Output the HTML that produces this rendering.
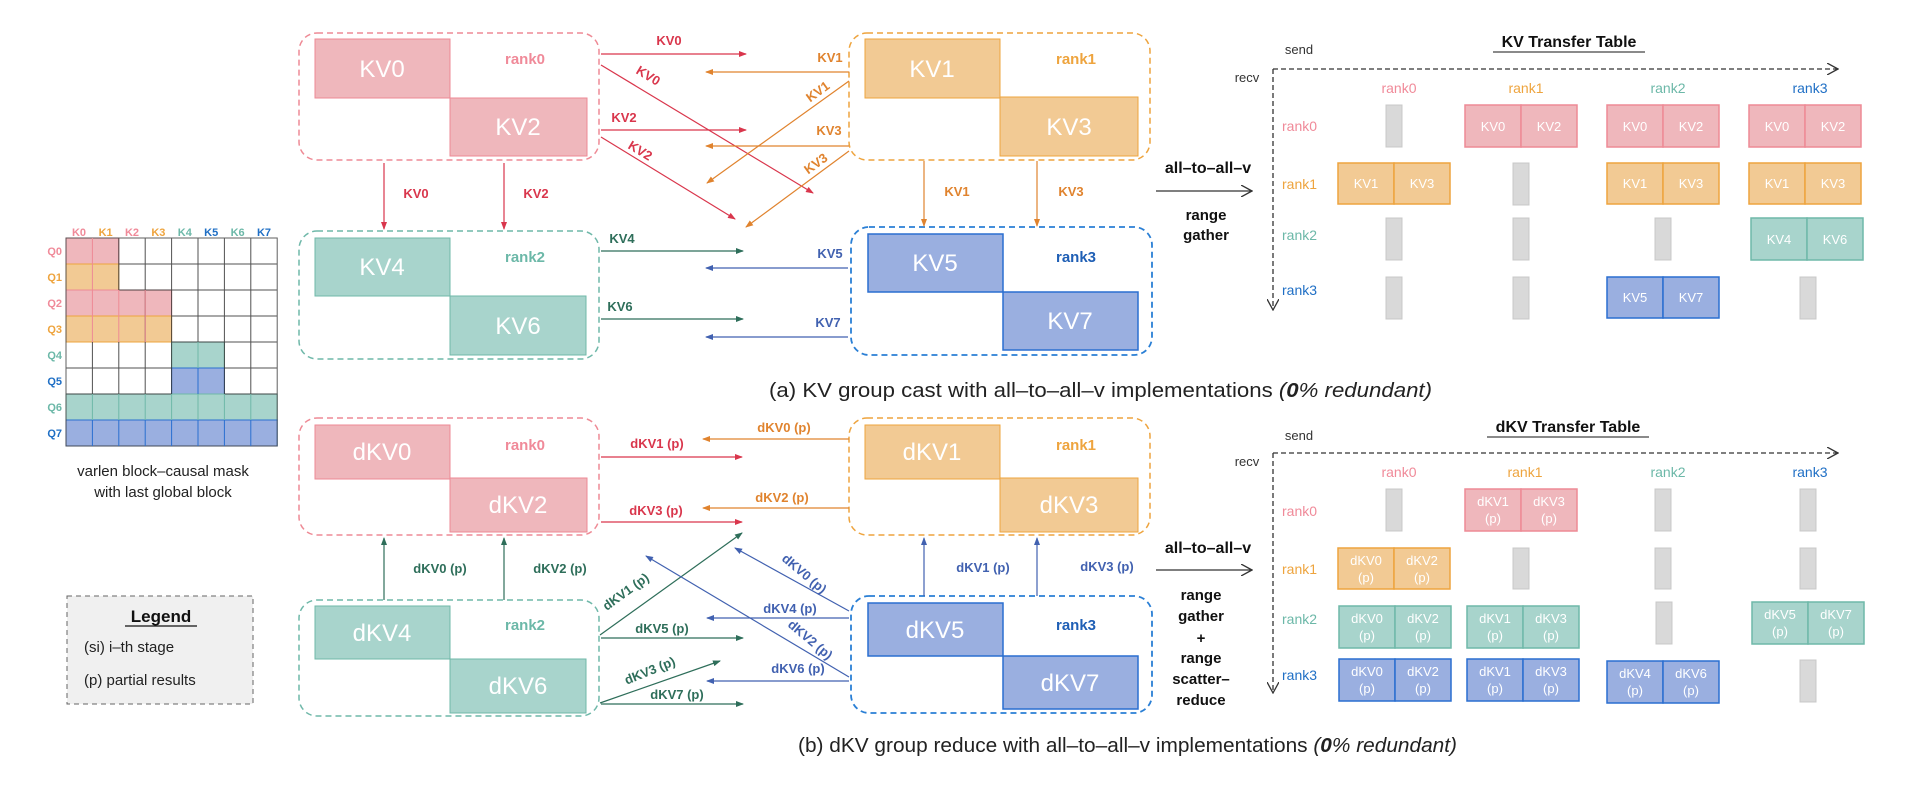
<!DOCTYPE html>
<html><head><meta charset="utf-8"><style>
html,body{margin:0;padding:0;background:#fff;}
svg{display:block;font-family:"Liberation Sans",Arial,sans-serif;}
.big{font-size:24px;fill:#fff;text-anchor:middle;}
.cell{font-size:13px;fill:#fff;text-anchor:middle;}
.lbl{font-size:14px;font-weight:bold;}
.rk{font-size:15px;font-weight:bold;text-anchor:middle;}
.al{font-size:13px;font-weight:bold;}
</style></head><body>
<svg width="1920" height="787" viewBox="0 0 1920 787" xmlns="http://www.w3.org/2000/svg">
<defs>
<marker id="mr" markerWidth="8" markerHeight="8" refX="7" refY="4" orient="auto" markerUnits="userSpaceOnUse"><path d="M0,1 L8,4 L0,7z" fill="#d9364c"/></marker>
<marker id="mo" markerWidth="8" markerHeight="8" refX="7" refY="4" orient="auto" markerUnits="userSpaceOnUse"><path d="M0,1 L8,4 L0,7z" fill="#e0832e"/></marker>
<marker id="mt" markerWidth="8" markerHeight="8" refX="7" refY="4" orient="auto" markerUnits="userSpaceOnUse"><path d="M0,1 L8,4 L0,7z" fill="#2e6e5a"/></marker>
<marker id="mb" markerWidth="8" markerHeight="8" refX="7" refY="4" orient="auto" markerUnits="userSpaceOnUse"><path d="M0,1 L8,4 L0,7z" fill="#4161b0"/></marker>
<marker id="mk" markerWidth="12" markerHeight="12" refX="11" refY="6" orient="auto" markerUnits="userSpaceOnUse"><path d="M0,0 L11,6 L0,12" fill="none" stroke="#333" stroke-width="1.3"/></marker>
</defs>

<!-- mask grid -->
<g>
<rect x="66" y="238" width="52.8" height="26" fill="#efb7bc" stroke="#ee8a95"/>
<rect x="66" y="264" width="52.8" height="26" fill="#f2ca94" stroke="#eea43e"/>
<rect x="66" y="290" width="105.6" height="26" fill="#efb7bc" stroke="#ee8a95"/>
<rect x="66" y="316" width="105.6" height="26" fill="#f2ca94" stroke="#eea43e"/>
<rect x="171.6" y="342" width="52.8" height="26" fill="#a8d4cc" stroke="#6fb8a9"/>
<rect x="171.6" y="368" width="52.8" height="26" fill="#9aafe0" stroke="#2a6fd0"/>
<rect x="66" y="394" width="211.2" height="26" fill="#a8d4cc" stroke="#6fb8a9"/>
<rect x="66" y="420" width="211.2" height="26" fill="#9aafe0" stroke="#2a6fd0"/>
<g stroke="#333" stroke-width="1" fill="none" opacity="0.85">
<path d="M118.8,238V290 M145.2,238V342 M171.6,238V394 M198,238V394 M224.4,238V394 M250.8,238V394 M92.4,342V394 M118.8,342V394 M145.2,342V394"/>
<path d="M118.8,264H277.2 M118.8,290H277.2 M171.6,316H277.2 M171.6,342H277.2 M66,368H171.6 M224.4,368H277.2 M66,394H171.6 M224.4,394H277.2"/>
<rect x="66" y="238" width="211.2" height="208" stroke="#444"/>
</g>
<g stroke-width="1" fill="none">
<path d="M92.4,238V290 M118.8,290V342 M145.2,290V342 M92.4,290V342" stroke="#ee8a95"/>
<path d="M198,342V368" stroke="#6fb8a9"/><path d="M198,368V394" stroke="#2a6fd0"/>
<path d="M92.4,394V420 M118.8,394V420 M145.2,394V420 M171.6,394V420 M198,394V420 M224.4,394V420 M250.8,394V420" stroke="#6fb8a9"/>
<path d="M92.4,420V446 M118.8,420V446 M145.2,420V446 M171.6,420V446 M198,420V446 M224.4,420V446 M250.8,420V446" stroke="#2a6fd0"/>
</g>
<g font-size="11" font-weight="bold" text-anchor="middle">
<text x="79" y="236" fill="#f08a99">K0</text><text x="105.6" y="236" fill="#eea43e">K1</text>
<text x="132" y="236" fill="#f08a99">K2</text><text x="158.4" y="236" fill="#eea43e">K3</text>
<text x="184.8" y="236" fill="#6cb8a8">K4</text><text x="211.2" y="236" fill="#1f6fc5">K5</text>
<text x="237.6" y="236" fill="#6cb8a8">K6</text><text x="264" y="236" fill="#1f6fc5">K7</text>
</g>
<g font-size="11" font-weight="bold" text-anchor="end">
<text x="62" y="255" fill="#f08a99">Q0</text><text x="62" y="281" fill="#eea43e">Q1</text>
<text x="62" y="307" fill="#f08a99">Q2</text><text x="62" y="333" fill="#eea43e">Q3</text>
<text x="62" y="359" fill="#6cb8a8">Q4</text><text x="62" y="385" fill="#1f6fc5">Q5</text>
<text x="62" y="411" fill="#6cb8a8">Q6</text><text x="62" y="437" fill="#1f6fc5">Q7</text>
</g>
<text x="163" y="476" font-size="15" fill="#222" text-anchor="middle">varlen  block–causal mask</text>
<text x="163" y="497" font-size="15" fill="#222" text-anchor="middle">with last global block</text>
</g>

<!-- legend -->
<rect x="67" y="596" width="186" height="108" fill="#f0f0f0" stroke="#666" stroke-dasharray="5 4"/>
<text x="161" y="622" font-size="17" font-weight="bold" text-anchor="middle" fill="#111">Legend</text>
<line x1="125" y1="626" x2="197" y2="626" stroke="#111" stroke-width="1.3"/>
<text x="84" y="652" font-size="15" fill="#222">(si)  i–th stage</text>
<text x="84" y="685" font-size="15" fill="#222">(p)  partial results</text>

<!-- ===== TOP (a) ===== -->
<rect x="299" y="33" width="300" height="127" rx="18" fill="none" stroke="#ee8a95" stroke-width="1.5" stroke-dasharray="6 4"/>
<rect x="315" y="39" width="135" height="59" fill="#efb7bc" stroke="#ee8a95"/>
<rect x="450" y="98" width="137" height="58" fill="#efb7bc" stroke="#ee8a95"/>
<text class="big" x="382" y="77">KV0</text><text class="big" x="518" y="135">KV2</text>
<text class="rk" x="525" y="64" fill="#f08a99">rank0</text>

<rect x="849" y="33" width="301" height="127" rx="18" fill="none" stroke="#eea43e" stroke-width="1.5" stroke-dasharray="6 4"/>
<rect x="865" y="39" width="135" height="59" fill="#f2ca94" stroke="#eea43e"/>
<rect x="1000" y="97" width="138" height="59" fill="#f2ca94" stroke="#eea43e"/>
<text class="big" x="932" y="77">KV1</text><text class="big" x="1069" y="135">KV3</text>
<text class="rk" x="1076" y="64" fill="#eea43e">rank1</text>

<rect x="299" y="231" width="300" height="128" rx="18" fill="none" stroke="#6fb8a9" stroke-width="1.5" stroke-dasharray="6 4"/>
<rect x="315" y="238" width="135" height="58" fill="#a8d4cc" stroke="#6fb8a9"/>
<rect x="450" y="296" width="136" height="59" fill="#a8d4cc" stroke="#6fb8a9"/>
<text class="big" x="382" y="275">KV4</text><text class="big" x="518" y="334">KV6</text>
<text class="rk" x="525" y="262" fill="#6cb8a8">rank2</text>

<rect x="851" y="227" width="301" height="128" rx="18" fill="none" stroke="#2a7fd5" stroke-width="1.8" stroke-dasharray="6 4"/>
<rect x="868" y="234" width="135" height="58" fill="#9aafe0" stroke="#2a6fd0" stroke-width="1.5"/>
<rect x="1003" y="292" width="135" height="58" fill="#9aafe0" stroke="#2a6fd0" stroke-width="1.5"/>
<text class="big" x="935" y="271">KV5</text><text class="big" x="1070" y="329">KV7</text>
<text class="rk" x="1076" y="262" fill="#1f5fb5">rank3</text>

<!-- top arrows -->
<g stroke-width="1.2" fill="none">
<line x1="601" y1="54" x2="746" y2="54" stroke="#d9364c" marker-end="url(#mr)"/>
<line x1="601" y1="130" x2="746" y2="130" stroke="#d9364c" marker-end="url(#mr)"/>
<line x1="601" y1="65" x2="813" y2="193" stroke="#d9364c" marker-end="url(#mr)"/>
<line x1="601" y1="137" x2="735" y2="219" stroke="#d9364c" marker-end="url(#mr)"/>
<line x1="849" y1="72" x2="706" y2="72" stroke="#e0832e" marker-end="url(#mo)"/>
<line x1="849" y1="146" x2="706" y2="146" stroke="#e0832e" marker-end="url(#mo)"/>
<line x1="849" y1="81" x2="707" y2="183" stroke="#e0832e" marker-end="url(#mo)"/>
<line x1="849" y1="151" x2="746" y2="227" stroke="#e0832e" marker-end="url(#mo)"/>
<line x1="384" y1="163" x2="384" y2="229" stroke="#d9364c" marker-end="url(#mr)"/>
<line x1="504" y1="163" x2="504" y2="229" stroke="#d9364c" marker-end="url(#mr)"/>
<line x1="924" y1="161" x2="924" y2="226" stroke="#e0832e" marker-end="url(#mo)"/>
<line x1="1037" y1="161" x2="1037" y2="226" stroke="#e0832e" marker-end="url(#mo)"/>
<line x1="601" y1="251" x2="743" y2="251" stroke="#2e6e5a" marker-end="url(#mt)"/>
<line x1="601" y1="319" x2="743" y2="319" stroke="#2e6e5a" marker-end="url(#mt)"/>
<line x1="848" y1="268" x2="706" y2="268" stroke="#4161b0" marker-end="url(#mb)"/>
<line x1="848" y1="337" x2="706" y2="337" stroke="#4161b0" marker-end="url(#mb)"/>
</g>
<g class="al">
<text x="669" y="45" fill="#d9364c" text-anchor="middle">KV0</text>
<text x="624" y="122" fill="#d9364c" text-anchor="middle">KV2</text>
<text x="648" y="80" fill="#d9364c" text-anchor="middle" transform="rotate(31 648 76)">KV0</text>
<text x="640" y="155" fill="#d9364c" text-anchor="middle" transform="rotate(31 640 151)">KV2</text>
<text x="830" y="62" fill="#e0832e" text-anchor="middle">KV1</text>
<text x="829" y="135" fill="#e0832e" text-anchor="middle">KV3</text>
<text x="818" y="96" fill="#e0832e" text-anchor="middle" transform="rotate(-36 818 92)">KV1</text>
<text x="816" y="168" fill="#e0832e" text-anchor="middle" transform="rotate(-36 816 164)">KV3</text>
<text x="416" y="198" fill="#d9364c" text-anchor="middle">KV0</text>
<text x="536" y="198" fill="#d9364c" text-anchor="middle">KV2</text>
<text x="957" y="196" fill="#e0832e" text-anchor="middle">KV1</text>
<text x="1071" y="196" fill="#e0832e" text-anchor="middle">KV3</text>
<text x="622" y="243" fill="#2e6e5a" text-anchor="middle">KV4</text>
<text x="620" y="311" fill="#2e6e5a" text-anchor="middle">KV6</text>
<text x="830" y="258" fill="#4161b0" text-anchor="middle">KV5</text>
<text x="828" y="327" fill="#4161b0" text-anchor="middle">KV7</text>
</g>

<!-- middle a -->
<text x="1208" y="173" font-size="16" font-weight="bold" text-anchor="middle" fill="#111">all–to–all–v</text>
<line x1="1156" y1="191" x2="1252" y2="191" stroke="#333" stroke-width="1.3" marker-end="url(#mk)"/>
<text x="1206" y="220" font-size="15" font-weight="bold" text-anchor="middle" fill="#111">range</text>
<text x="1206" y="240" font-size="15" font-weight="bold" text-anchor="middle" fill="#111">gather</text>

<text x="769" y="397" font-size="20" fill="#222" textLength="663" lengthAdjust="spacingAndGlyphs">(a) KV group cast with all–to–all–v implementations <tspan font-style="italic">(<tspan font-weight="bold">0</tspan>% redundant)</tspan></text>

<!-- KV table -->
<text x="1569" y="47" font-size="16" font-weight="bold" text-anchor="middle" fill="#111">KV Transfer Table</text>
<line x1="1493" y1="52" x2="1645" y2="52" stroke="#444" stroke-width="1.3"/>
<text x="1299" y="54" font-size="13" text-anchor="middle" fill="#333">send</text>
<text x="1247" y="82" font-size="13" text-anchor="middle" fill="#333">recv</text>
<line x1="1273" y1="69" x2="1838" y2="69" stroke="#333" stroke-width="1.3" stroke-dasharray="5 3" marker-end="url(#mk)"/>
<line x1="1273" y1="69" x2="1273" y2="310" stroke="#333" stroke-width="1.3" stroke-dasharray="5 3" marker-end="url(#mk)"/>
<g font-size="14" text-anchor="middle">
<text x="1399" y="93" fill="#f08a99">rank0</text><text x="1526" y="93" fill="#eea43e">rank1</text>
<text x="1668" y="93" fill="#6cb8a8">rank2</text><text x="1810" y="93" fill="#1f6fc5">rank3</text>
</g>
<g font-size="14">
<text x="1282" y="131" fill="#f08a99">rank0</text><text x="1282" y="189" fill="#eea43e">rank1</text>
<text x="1282" y="240" fill="#6cb8a8">rank2</text><text x="1282" y="295" fill="#1f6fc5">rank3</text>
</g>
<g fill="#d9d9d9" stroke="#c8c8c8">
<rect x="1386" y="105" width="16" height="42"/>
<rect x="1513" y="163" width="16" height="42"/>
<rect x="1386" y="218" width="16" height="42"/><rect x="1513" y="218" width="16" height="42"/><rect x="1655" y="218" width="16" height="42"/>
<rect x="1386" y="277" width="16" height="42"/><rect x="1513" y="277" width="16" height="42"/><rect x="1800" y="277" width="16" height="42"/>
</g>
<g stroke-width="1.5">
<rect x="1465" y="105" width="56" height="42" fill="#efb7bc" stroke="#ee8a95"/><rect x="1521" y="105" width="56" height="42" fill="#efb7bc" stroke="#ee8a95"/>
<rect x="1607" y="105" width="56" height="42" fill="#efb7bc" stroke="#ee8a95"/><rect x="1663" y="105" width="56" height="42" fill="#efb7bc" stroke="#ee8a95"/>
<rect x="1749" y="105" width="56" height="42" fill="#efb7bc" stroke="#ee8a95"/><rect x="1805" y="105" width="56" height="42" fill="#efb7bc" stroke="#ee8a95"/>
<rect x="1338" y="163" width="56" height="41" fill="#f2ca94" stroke="#eea43e"/><rect x="1394" y="163" width="56" height="41" fill="#f2ca94" stroke="#eea43e"/>
<rect x="1607" y="163" width="56" height="41" fill="#f2ca94" stroke="#eea43e"/><rect x="1663" y="163" width="56" height="41" fill="#f2ca94" stroke="#eea43e"/>
<rect x="1749" y="163" width="56" height="41" fill="#f2ca94" stroke="#eea43e"/><rect x="1805" y="163" width="56" height="41" fill="#f2ca94" stroke="#eea43e"/>
<rect x="1751" y="218" width="56" height="42" fill="#a8d4cc" stroke="#6fb8a9"/><rect x="1807" y="218" width="56" height="42" fill="#a8d4cc" stroke="#6fb8a9"/>
<rect x="1607" y="277" width="56" height="41" fill="#9aafe0" stroke="#2a6fd0"/><rect x="1663" y="277" width="56" height="41" fill="#9aafe0" stroke="#2a6fd0"/>
</g>
<g class="cell">
<text x="1493" y="131">KV0</text><text x="1549" y="131">KV2</text>
<text x="1635" y="131">KV0</text><text x="1691" y="131">KV2</text>
<text x="1777" y="131">KV0</text><text x="1833" y="131">KV2</text>
<text x="1366" y="188">KV1</text><text x="1422" y="188">KV3</text>
<text x="1635" y="188">KV1</text><text x="1691" y="188">KV3</text>
<text x="1777" y="188">KV1</text><text x="1833" y="188">KV3</text>
<text x="1779" y="244">KV4</text><text x="1835" y="244">KV6</text>
<text x="1635" y="302">KV5</text><text x="1691" y="302">KV7</text>
</g>

<!-- ===== BOTTOM (b) ===== -->
<rect x="299" y="418" width="300" height="117" rx="18" fill="none" stroke="#ee8a95" stroke-width="1.5" stroke-dasharray="6 4"/>
<rect x="315" y="425" width="135" height="54" fill="#efb7bc" stroke="#ee8a95"/>
<rect x="450" y="478" width="137" height="54" fill="#efb7bc" stroke="#ee8a95"/>
<text class="big" x="382" y="460">dKV0</text><text class="big" x="518" y="513">dKV2</text>
<text class="rk" x="525" y="450" fill="#f08a99">rank0</text>

<rect x="849" y="418" width="301" height="117" rx="18" fill="none" stroke="#eea43e" stroke-width="1.5" stroke-dasharray="6 4"/>
<rect x="865" y="425" width="135" height="54" fill="#f2ca94" stroke="#eea43e"/>
<rect x="1000" y="478" width="138" height="54" fill="#f2ca94" stroke="#eea43e"/>
<text class="big" x="932" y="460">dKV1</text><text class="big" x="1069" y="513">dKV3</text>
<text class="rk" x="1076" y="450" fill="#eea43e">rank1</text>

<rect x="299" y="600" width="300" height="116" rx="18" fill="none" stroke="#6fb8a9" stroke-width="1.5" stroke-dasharray="6 4"/>
<rect x="315" y="606" width="135" height="53" fill="#a8d4cc" stroke="#6fb8a9"/>
<rect x="450" y="659" width="136" height="54" fill="#a8d4cc" stroke="#6fb8a9"/>
<text class="big" x="382" y="641">dKV4</text><text class="big" x="518" y="694">dKV6</text>
<text class="rk" x="525" y="630" fill="#6cb8a8">rank2</text>

<rect x="851" y="596" width="301" height="117" rx="18" fill="none" stroke="#2a7fd5" stroke-width="1.8" stroke-dasharray="6 4"/>
<rect x="868" y="603" width="135" height="53" fill="#9aafe0" stroke="#2a6fd0" stroke-width="1.5"/>
<rect x="1003" y="656" width="135" height="53" fill="#9aafe0" stroke="#2a6fd0" stroke-width="1.5"/>
<text class="big" x="935" y="638">dKV5</text><text class="big" x="1070" y="691">dKV7</text>
<text class="rk" x="1076" y="630" fill="#1f5fb5">rank3</text>

<g stroke-width="1.2" fill="none">
<line x1="849" y1="439" x2="703" y2="439" stroke="#e0832e" marker-end="url(#mo)"/>
<line x1="849" y1="508" x2="703" y2="508" stroke="#e0832e" marker-end="url(#mo)"/>
<line x1="601" y1="457" x2="742" y2="457" stroke="#d9364c" marker-end="url(#mr)"/>
<line x1="601" y1="522" x2="742" y2="522" stroke="#d9364c" marker-end="url(#mr)"/>
<line x1="384" y1="600" x2="384" y2="538" stroke="#2e6e5a" marker-end="url(#mt)"/>
<line x1="504" y1="600" x2="504" y2="538" stroke="#2e6e5a" marker-end="url(#mt)"/>
<line x1="924" y1="596" x2="924" y2="538" stroke="#4161b0" marker-end="url(#mb)"/>
<line x1="1037" y1="596" x2="1037" y2="538" stroke="#4161b0" marker-end="url(#mb)"/>
<line x1="601" y1="638" x2="743" y2="638" stroke="#2e6e5a" marker-end="url(#mt)"/>
<line x1="601" y1="704" x2="743" y2="704" stroke="#2e6e5a" marker-end="url(#mt)"/>
<line x1="600" y1="635" x2="742" y2="533" stroke="#2e6e5a" marker-end="url(#mt)"/>
<line x1="600" y1="703" x2="720" y2="661" stroke="#2e6e5a" marker-end="url(#mt)"/>
<line x1="849" y1="618" x2="707" y2="618" stroke="#4161b0" marker-end="url(#mb)"/>
<line x1="849" y1="681" x2="707" y2="681" stroke="#4161b0" marker-end="url(#mb)"/>
<line x1="849" y1="611" x2="735" y2="548" stroke="#4161b0" marker-end="url(#mb)"/>
<line x1="849" y1="677" x2="646" y2="556" stroke="#4161b0" marker-end="url(#mb)"/>
</g>
<g class="al">
<text x="784" y="432" fill="#e0832e" text-anchor="middle">dKV0 (p)</text>
<text x="782" y="502" fill="#e0832e" text-anchor="middle">dKV2 (p)</text>
<text x="657" y="448" fill="#d9364c" text-anchor="middle">dKV1 (p)</text>
<text x="656" y="515" fill="#d9364c" text-anchor="middle">dKV3 (p)</text>
<text x="440" y="573" fill="#2e6e5a" text-anchor="middle">dKV0 (p)</text>
<text x="560" y="573" fill="#2e6e5a" text-anchor="middle">dKV2 (p)</text>
<text x="983" y="572" fill="#4161b0" text-anchor="middle">dKV1 (p)</text>
<text x="1107" y="571" fill="#4161b0" text-anchor="middle">dKV3 (p)</text>
<text x="662" y="633" fill="#2e6e5a" text-anchor="middle">dKV5 (p)</text>
<text x="677" y="699" fill="#2e6e5a" text-anchor="middle">dKV7 (p)</text>
<text x="790" y="613" fill="#4161b0" text-anchor="middle">dKV4 (p)</text>
<text x="798" y="673" fill="#4161b0" text-anchor="middle">dKV6 (p)</text>
<text x="626" y="596" fill="#2e6e5a" text-anchor="middle" transform="rotate(-36 626 592)">dKV1 (p)</text>
<text x="650" y="675" fill="#2e6e5a" text-anchor="middle" transform="rotate(-22 650 671)">dKV3 (p)</text>
<text x="804" y="578" fill="#4161b0" text-anchor="middle" transform="rotate(40 804 574)">dKV0 (p)</text>
<text x="810" y="644" fill="#4161b0" text-anchor="middle" transform="rotate(40 810 640)">dKV2 (p)</text>
</g>

<text x="1208" y="553" font-size="16" font-weight="bold" text-anchor="middle" fill="#111">all–to–all–v</text>
<line x1="1156" y1="570" x2="1252" y2="570" stroke="#333" stroke-width="1.3" marker-end="url(#mk)"/>
<g font-size="15" font-weight="bold" text-anchor="middle" fill="#111">
<text x="1201" y="600">range</text><text x="1201" y="621">gather</text><text x="1201" y="643">+</text>
<text x="1201" y="663">range</text><text x="1201" y="684">scatter–</text><text x="1201" y="705">reduce</text>
</g>

<text x="798" y="752" font-size="20" fill="#222" textLength="659" lengthAdjust="spacingAndGlyphs">(b) dKV group reduce with all–to–all–v implementations <tspan font-style="italic">(<tspan font-weight="bold">0</tspan>% redundant)</tspan></text>

<!-- dKV table -->
<text x="1568" y="432" font-size="16" font-weight="bold" text-anchor="middle" fill="#111">dKV Transfer Table</text>
<line x1="1487" y1="437" x2="1649" y2="437" stroke="#444" stroke-width="1.3"/>
<text x="1299" y="440" font-size="13" text-anchor="middle" fill="#333">send</text>
<text x="1247" y="466" font-size="13" text-anchor="middle" fill="#333">recv</text>
<line x1="1273" y1="453" x2="1838" y2="453" stroke="#333" stroke-width="1.3" stroke-dasharray="5 3" marker-end="url(#mk)"/>
<line x1="1273" y1="453" x2="1273" y2="693" stroke="#333" stroke-width="1.3" stroke-dasharray="5 3" marker-end="url(#mk)"/>
<g font-size="14" text-anchor="middle">
<text x="1399" y="477" fill="#f08a99">rank0</text><text x="1525" y="477" fill="#eea43e">rank1</text>
<text x="1668" y="477" fill="#6cb8a8">rank2</text><text x="1810" y="477" fill="#1f6fc5">rank3</text>
</g>
<g font-size="14">
<text x="1282" y="516" fill="#f08a99">rank0</text><text x="1282" y="574" fill="#eea43e">rank1</text>
<text x="1282" y="624" fill="#6cb8a8">rank2</text><text x="1282" y="680" fill="#1f6fc5">rank3</text>
</g>
<g fill="#d9d9d9" stroke="#c8c8c8">
<rect x="1386" y="489" width="16" height="42"/><rect x="1655" y="489" width="16" height="42"/><rect x="1800" y="489" width="16" height="42"/>
<rect x="1513" y="548" width="16" height="41"/><rect x="1655" y="548" width="16" height="41"/><rect x="1800" y="548" width="16" height="41"/>
<rect x="1656" y="602" width="16" height="42"/>
<rect x="1800" y="660" width="16" height="42"/>
</g>
<g stroke-width="1.5">
<rect x="1465" y="489" width="56" height="42" fill="#efb7bc" stroke="#ee8a95"/><rect x="1521" y="489" width="56" height="42" fill="#efb7bc" stroke="#ee8a95"/>
<rect x="1338" y="548" width="56" height="41" fill="#f2ca94" stroke="#eea43e"/><rect x="1394" y="548" width="56" height="41" fill="#f2ca94" stroke="#eea43e"/>
<rect x="1339" y="606" width="56" height="42" fill="#a8d4cc" stroke="#6fb8a9"/><rect x="1395" y="606" width="56" height="42" fill="#a8d4cc" stroke="#6fb8a9"/>
<rect x="1467" y="606" width="56" height="42" fill="#a8d4cc" stroke="#6fb8a9"/><rect x="1523" y="606" width="56" height="42" fill="#a8d4cc" stroke="#6fb8a9"/>
<rect x="1752" y="602" width="56" height="42" fill="#a8d4cc" stroke="#6fb8a9"/><rect x="1808" y="602" width="56" height="42" fill="#a8d4cc" stroke="#6fb8a9"/>
<rect x="1339" y="659" width="56" height="42" fill="#9aafe0" stroke="#2a6fd0"/><rect x="1395" y="659" width="56" height="42" fill="#9aafe0" stroke="#2a6fd0"/>
<rect x="1467" y="659" width="56" height="42" fill="#9aafe0" stroke="#2a6fd0"/><rect x="1523" y="659" width="56" height="42" fill="#9aafe0" stroke="#2a6fd0"/>
<rect x="1607" y="661" width="56" height="42" fill="#9aafe0" stroke="#2a6fd0"/><rect x="1663" y="661" width="56" height="42" fill="#9aafe0" stroke="#2a6fd0"/>
</g>
<g class="cell" font-size="12">
<text x="1493" y="506">dKV1</text><text x="1493" y="523">(p)</text><text x="1549" y="506">dKV3</text><text x="1549" y="523">(p)</text>
<text x="1366" y="565">dKV0</text><text x="1366" y="582">(p)</text><text x="1422" y="565">dKV2</text><text x="1422" y="582">(p)</text>
<text x="1367" y="623">dKV0</text><text x="1367" y="640">(p)</text><text x="1423" y="623">dKV2</text><text x="1423" y="640">(p)</text>
<text x="1495" y="623">dKV1</text><text x="1495" y="640">(p)</text><text x="1551" y="623">dKV3</text><text x="1551" y="640">(p)</text>
<text x="1780" y="619">dKV5</text><text x="1780" y="636">(p)</text><text x="1836" y="619">dKV7</text><text x="1836" y="636">(p)</text>
<text x="1367" y="676">dKV0</text><text x="1367" y="693">(p)</text><text x="1423" y="676">dKV2</text><text x="1423" y="693">(p)</text>
<text x="1495" y="676">dKV1</text><text x="1495" y="693">(p)</text><text x="1551" y="676">dKV3</text><text x="1551" y="693">(p)</text>
<text x="1635" y="678">dKV4</text><text x="1635" y="695">(p)</text><text x="1691" y="678">dKV6</text><text x="1691" y="695">(p)</text>
</g>
</svg>
</body></html>
